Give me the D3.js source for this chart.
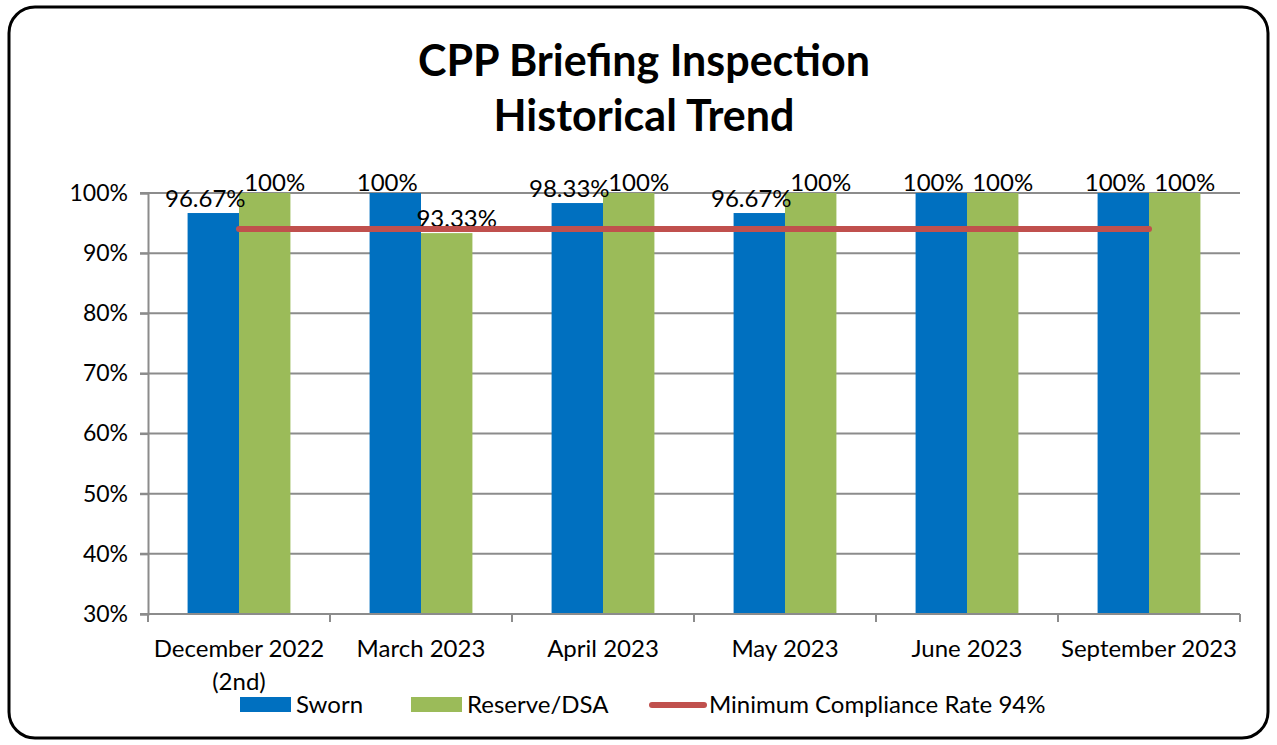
<!DOCTYPE html>
<html>
<head>
<meta charset="utf-8">
<script src="https://cdn.jsdelivr.net/npm/d3@7"></script>
<style>
  body { margin: 0; background: #fff; }
  svg text { font-family: Lato, "Open Sans", sans-serif; fill: #000; }
</style>
</head>
<body>
<div id="chart"></div>
<script>
// chart data
var categories = ["December 2022\n(2nd)", "March 2023", "April 2023", "May 2023", "June 2023", "September 2023"];
var sworn = [96.67, 100, 98.33, 96.67, 100, 100];
var reserve = [100, 93.33, 100, 100, 100, 100];
var minRate = 94;
var yTicks = [30, 40, 50, 60, 70, 80, 90, 100];
var seriesNames = ["Sworn", "Reserve/DSA", "Minimum Compliance Rate 94%"];

var W = 1277, H = 745;
var margin = {top: 193, right: 37, bottom: 131, left: 148},
    width = W - margin.left - margin.right,
    height = H - margin.top - margin.bottom;

var svg = d3.select("#chart")
  .append("svg")
    .attr("width", W)
    .attr("height", H);

// outer rounded frame
svg.append("rect")
    .attr("x", 9).attr("y", 7)
    .attr("width", W - 18).attr("height", H - 14)
    .attr("rx", 26).attr("ry", 26)
    .attr("fill", "#fff")
    .attr("stroke", "#000")
    .attr("stroke-width", 3);

// title
var title = svg.append("text")
    .attr("text-anchor", "middle")
    .style("font-weight", "bold")
    .style("font-size", "43px");
title.append("tspan").attr("x", 644).attr("y", 76).text("CPP Briefing Inspection");
title.append("tspan").attr("x", 644).attr("y", 131).text("Historical Trend");

var g = svg.append("g")
    .attr("transform", "translate(" + margin.left + "," + margin.top + ")");

// scales
var x0 = d3.scaleBand()
    .domain(categories)
    .range([0, width])
    .padding(0);

var x1 = d3.scaleBand()
    .domain(["sworn", "reserve"])
    .range([0, x0.bandwidth()])
    .paddingInner(0)
    .paddingOuter(0.77);

var y = d3.scaleLinear()
    .domain([30, 100])
    .range([height, 0]);

// gridlines
g.append("g")
    .selectAll("line")
    .data(yTicks)
    .enter().append("line")
    .attr("x1", -8)
    .attr("x2", width)
    .attr("y1", d => y(d))
    .attr("y2", d => y(d))
    .attr("stroke", "#8c8c8c")
    .attr("stroke-width", 2);

// y axis
var yAxis = g.append("g")
    .call(d3.axisLeft(y).tickValues(yTicks).tickFormat(d => d + "%").tickSize(8).tickPadding(12));
yAxis.select(".domain").attr("stroke", "#8c8c8c").attr("stroke-width", 2);
yAxis.selectAll(".tick line").attr("stroke", "#8c8c8c").attr("stroke-width", 2);
yAxis.selectAll("text").style("font-size", "23px").attr("fill", "#000");

// bars
var rows = categories.map(function(c, i) {
  return {cat: c, vals: [{key: "sworn", v: sworn[i]}, {key: "reserve", v: reserve[i]}]};
});
var color = {sworn: "#0070C0", reserve: "#9BBB59"};

var grp = g.selectAll(".grp")
    .data(rows)
    .enter().append("g")
    .attr("class", "grp")
    .attr("transform", d => "translate(" + x0(d.cat) + ",0)");

grp.selectAll("rect")
    .data(d => d.vals)
    .enter().append("rect")
    .attr("x", d => x1(d.key))
    .attr("y", d => y(d.v))
    .attr("width", x1.bandwidth())
    .attr("height", d => height - y(d.v))
    .attr("fill", d => color[d.key]);

// x axis
var xAxis = g.append("g")
    .attr("transform", "translate(0," + height + ")");
xAxis.append("line")
    .attr("x1", 0).attr("x2", width)
    .attr("stroke", "#8c8c8c").attr("stroke-width", 2);
xAxis.selectAll(".xt")
    .data(d3.range(categories.length + 1))
    .enter().append("line")
    .attr("x1", i => i * x0.step())
    .attr("x2", i => i * x0.step())
    .attr("y1", 0).attr("y2", 8)
    .attr("stroke", "#8c8c8c").attr("stroke-width", 2);
var xl = xAxis.selectAll(".xl")
    .data(categories)
    .enter().append("text")
    .attr("text-anchor", "middle")
    .style("font-size", "24px");
xl.each(function(c) {
  var t = d3.select(this);
  c.split("\n").forEach(function(line, k) {
    t.append("tspan")
      .attr("x", x0(c) + x0.bandwidth() / 2)
      .attr("y", 43 + k * 33)
      .text(line);
  });
});

// minimum compliance line
var line = d3.line()
    .x(c => x0(c) + x0.bandwidth() / 2)
    .y(() => y(minRate));
g.append("path")
    .datum(categories)
    .attr("d", line)
    .attr("fill", "none")
    .attr("stroke", "#C0504D")
    .attr("stroke-width", 6)
    .attr("stroke-linecap", "round");

// data labels
var fmt = v => (v === 100 ? "100" : v.toFixed(2)) + "%";
grp.selectAll(".lbl")
    .data(d => d.vals)
    .enter().append("text")
    .attr("x", d => x1(d.key) + x1.bandwidth() / 2 + (d.key === "sworn" ? -8 : 10))
    .attr("y", d => Math.max(y(d.v) - 6, -2))
    .attr("text-anchor", "middle")
    .style("font-size", "24px")
    .text(d => fmt(d.v));

// legend
var legend = svg.append("g");
legend.append("rect").attr("x", 240).attr("y", 697).attr("width", 51).attr("height", 15).attr("fill", color.sworn);
legend.append("text").attr("x", 296).attr("y", 713).style("font-size", "24px").text(seriesNames[0]);
legend.append("rect").attr("x", 411).attr("y", 697).attr("width", 51).attr("height", 15).attr("fill", color.reserve);
legend.append("text").attr("x", 467).attr("y", 713).style("font-size", "24px").text(seriesNames[1]);
legend.append("line").attr("x1", 652).attr("x2", 704).attr("y1", 705).attr("y2", 705)
    .attr("stroke", "#C0504D").attr("stroke-width", 6).attr("stroke-linecap", "round");
legend.append("text").attr("x", 709).attr("y", 713).style("font-size", "24px").text(seriesNames[2]);
</script>
</body>
</html>
